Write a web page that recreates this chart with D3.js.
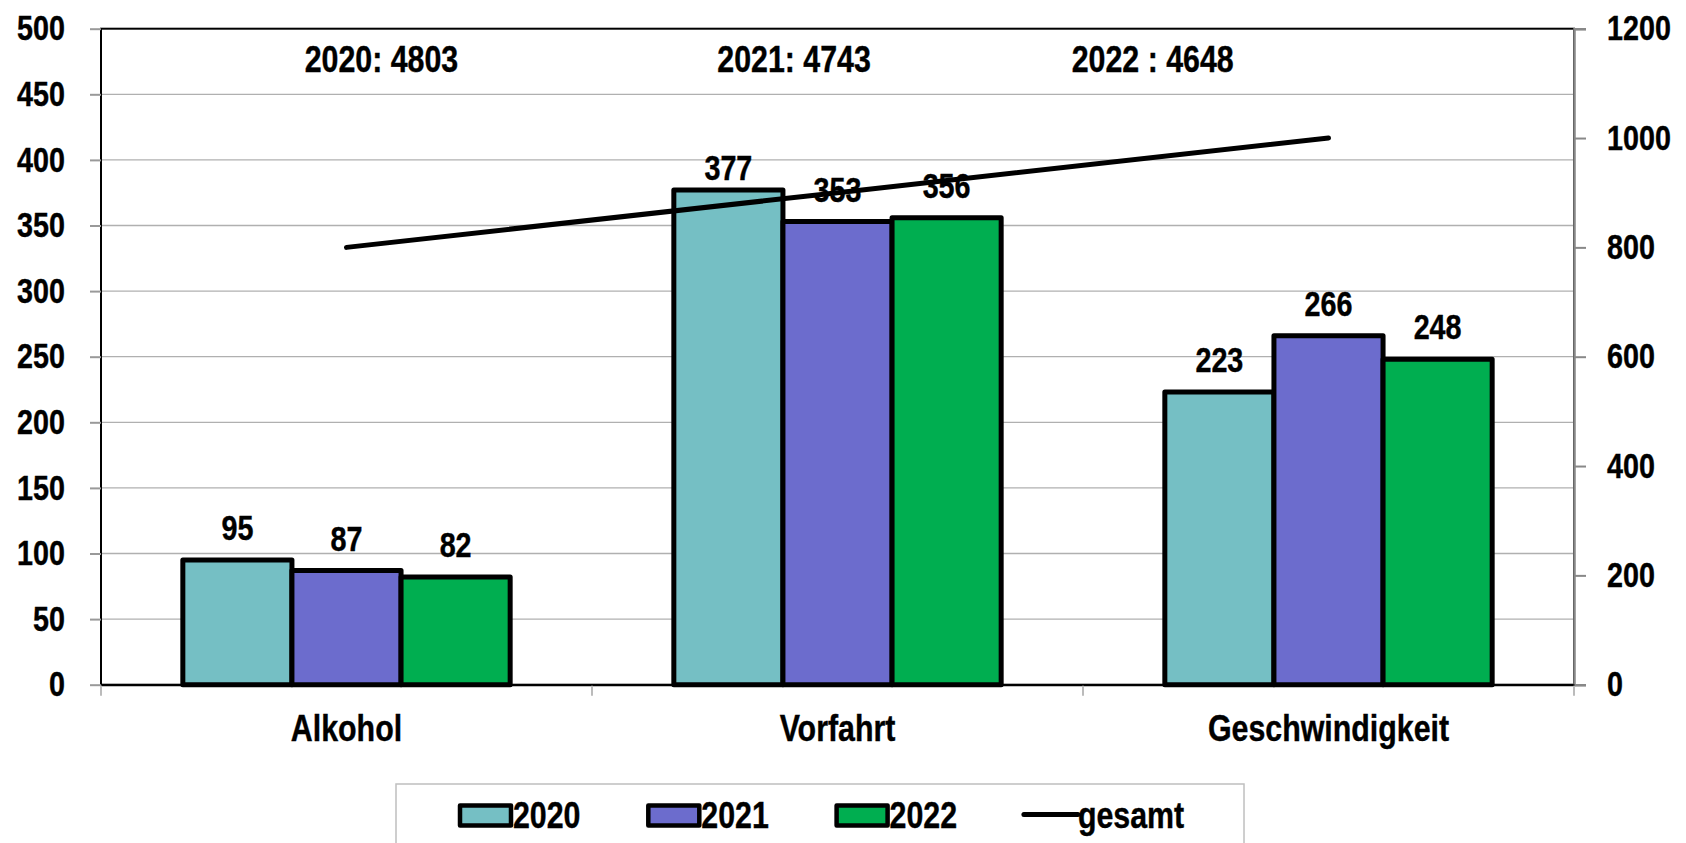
<!DOCTYPE html>
<html>
<head>
<meta charset="utf-8">
<script src="https://cdn.jsdelivr.net/npm/d3@7"></script>
<style>
  html, body { margin: 0; padding: 0; background: #fff; }
  svg text { font-family: "Liberation Sans Narrow", "Arial Narrow", "Liberation Sans", Arial, sans-serif; font-weight: bold; fill: #000; stroke: #000; stroke-width: 0.4px; }
</style>
</head>
<body>
<div id="chart"></div>
<script>
// Daten
const kategorien = ["Alkohol", "Vorfahrt", "Geschwindigkeit"];
const jahre = ["2020", "2021", "2022"];
const werte2020 = [95, 377, 223];
const werte2021 = [87, 353, 266];
const werte2022 = [82, 356, 248];
const gesamt = [800, 900, 1000];
const hinweise = ["2020: 4803", "2021: 4743", "2022 : 4648"];
const linkeTicks = [0, 50, 100, 150, 200, 250, 300, 350, 400, 450, 500];
const rechteTicks = [0, 200, 400, 600, 800, 1000, 1200];

const farben = { "2020": "#75bfc4", "2021": "#6c6ccd", "2022": "#00ae50" };

const width = 1686;
const height = 843;
const margin = { top: 28.7, right: 112, bottom: 158.3, left: 101 };
const innerW = width - margin.left - margin.right;
const innerH = height - margin.top - margin.bottom;

// Schmalschrift nachbilden: Arial Narrow ~ 82% der Breite von Arial
const schmal = (sel) => {
  sel.each(function () {
    const w = this.getComputedTextLength();
    d3.select(this).attr("textLength", w * 0.82).attr("lengthAdjust", "spacingAndGlyphs");
  });
};

const svg = d3.select("#chart").append("svg")
  .attr("width", width)
  .attr("height", height);

const g = svg.append("g").attr("transform", `translate(${margin.left},${margin.top})`);

// Skalen
const x = d3.scaleBand().domain(kategorien).range([0, innerW]).padding(0);
const xJahr = d3.scaleBand().domain(jahre).range([0, x.bandwidth()]).paddingInner(0).paddingOuter(0.75);
const y = d3.scaleLinear().domain([0, 500]).range([innerH, 0]);
const yR = d3.scaleLinear().domain([0, 1200]).range([innerH, 0]);

// Gitterlinien
g.append("g")
  .selectAll("line")
  .data(linkeTicks.filter(d => d > 0 && d < 500))
  .join("line")
  .attr("x1", 0).attr("x2", innerW)
  .attr("y1", d => y(d)).attr("y2", d => y(d))
  .attr("stroke", "#b0b0b0").attr("stroke-width", 1.3);

// Rahmen
g.append("rect")
  .attr("x", 0).attr("y", 0)
  .attr("width", innerW).attr("height", innerH)
  .attr("fill", "none").attr("stroke", "#000").attr("stroke-width", 2);

// linke Achse
const achseLinks = g.append("g")
  .call(d3.axisLeft(y).tickValues(linkeTicks).tickSize(11).tickPadding(25));
achseLinks.select(".domain").remove();
achseLinks.selectAll(".tick line").attr("stroke", "#999").attr("stroke-width", 2);
achseLinks.selectAll("text").style("font-size", "35px").call(schmal);

// rechte Achse
const achseRechts = g.append("g")
  .attr("transform", `translate(${innerW},0)`)
  .call(d3.axisRight(yR).tickValues(rechteTicks).tickFormat(d3.format("d")).tickSize(12).tickPadding(21));
achseRechts.select(".domain").attr("stroke", "#888").attr("stroke-width", 2.5);
achseRechts.selectAll(".tick line").attr("stroke", "#888").attr("stroke-width", 2);
achseRechts.selectAll("text").style("font-size", "35px").call(schmal);

// Kategorieachse
const achseUnten = g.append("g")
  .attr("transform", `translate(0,${innerH})`)
  .call(d3.axisBottom(x).tickSize(0).tickPadding(30));
achseUnten.select(".domain").attr("stroke", "#000").attr("stroke-width", 2);
achseUnten.selectAll("text").style("font-size", "37px").call(schmal);
g.append("g")
  .selectAll("line")
  .data([0, 1, 2, 3])
  .join("line")
  .attr("x1", i => i * x.step()).attr("x2", i => i * x.step())
  .attr("y1", innerH + 1).attr("y2", innerH + 11)
  .attr("stroke", "#bbb").attr("stroke-width", 2);

// Balken
const reihen = jahre.map((j, k) => ({ jahr: j, werte: [werte2020, werte2021, werte2022][k] }));
const balken = [];
reihen.forEach(r => r.werte.forEach((v, i) => balken.push({ kat: kategorien[i], jahr: r.jahr, wert: v })));

g.append("g")
  .selectAll("rect")
  .data(balken)
  .join("rect")
  .attr("x", d => x(d.kat) + xJahr(d.jahr))
  .attr("y", d => y(d.wert))
  .attr("width", xJahr.bandwidth())
  .attr("height", d => innerH - y(d.wert))
  .attr("fill", d => farben[d.jahr])
  .attr("stroke", "#000")
  .attr("stroke-width", 5)
  .attr("stroke-linejoin", "round");

// Linie gesamt
const linie = d3.line()
  .x((d, i) => x(kategorien[i]) + x.bandwidth() / 2)
  .y(d => yR(d));
g.append("path")
  .datum(gesamt)
  .attr("d", linie)
  .attr("fill", "none")
  .attr("stroke", "#000")
  .attr("stroke-width", 5)
  .attr("stroke-linecap", "round");

// Datenbeschriftungen (377 sitzt im Original etwas tiefer)
const versatz = d => (d.kat === "Vorfahrt" && d.jahr === "2020") ? 10 : 20;
g.append("g")
  .selectAll("text")
  .data(balken)
  .join("text")
  .attr("x", d => x(d.kat) + xJahr(d.jahr) + xJahr.bandwidth() / 2)
  .attr("y", d => y(d.wert) - versatz(d))
  .attr("text-anchor", "middle")
  .style("font-size", "35px")
  .text(d => d.wert)
  .call(schmal);

// Summen oben
const hinweisX = [0.1904, 0.4705, 0.714];
g.append("g")
  .selectAll("text")
  .data(hinweise)
  .join("text")
  .attr("x", (d, i) => hinweisX[i] * innerW)
  .attr("y", 72 - margin.top)
  .attr("text-anchor", "middle")
  .style("font-size", "37px")
  .text(d => d)
  .call(schmal);

// Legende
const legende = svg.append("g");
legende.append("rect")
  .attr("x", 396).attr("y", 784)
  .attr("width", 848).attr("height", 80)
  .attr("fill", "#fff").attr("stroke", "#bfbfbf").attr("stroke-width", 1.5);

const eintraege = jahre.concat(["gesamt"]);
const eintrag = legende.selectAll("g.eintrag")
  .data(eintraege)
  .join("g")
  .attr("class", "eintrag")
  .attr("transform", (d, i) => `translate(${458 + i * 188.3},815.5)`);

eintrag.filter(d => d !== "gesamt")
  .append("rect")
  .attr("x", 2).attr("y", -10)
  .attr("width", 51).attr("height", 20)
  .attr("fill", d => farben[d])
  .attr("stroke", "#000").attr("stroke-width", 4.5)
  .attr("stroke-linejoin", "round");

eintrag.filter(d => d === "gesamt")
  .append("line")
  .attr("x1", 1).attr("x2", 55)
  .attr("y1", -1).attr("y2", -1)
  .attr("stroke", "#000").attr("stroke-width", 5)
  .attr("stroke-linecap", "round");

eintrag.append("text")
  .attr("x", 55)
  .attr("y", 12.5)
  .style("font-size", "37px")
  .text(d => d)
  .call(schmal);
</script>
</body>
</html>
